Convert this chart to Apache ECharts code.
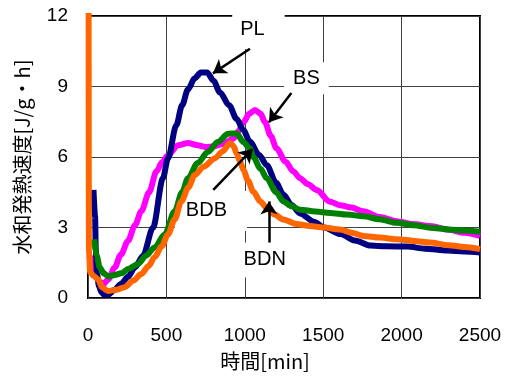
<!DOCTYPE html>
<html>
<head>
<meta charset="utf-8">
<script src="https://cdn.jsdelivr.net/npm/echarts@6/dist/echarts.min.js"></script>
<style>html,body{margin:0;padding:0;background:#fff;}#c{width:508px;height:376px;}</style>
</head>
<body>
<div id="c"></div>
<script>
var xTicks = [0, 500, 1000, 1500, 2000, 2500];
var yTicks = [0, 3, 6, 9, 12];
var seriesNames = ['BS', 'PL', 'BDB', 'BDN'];

var BS = [[20,1.8],[30,1.4],[45,1.0],[70,0.7],[100,0.6],[130,0.8],[170,1.3],[210,1.85],[255,2.43],[300,3.1],[340,3.69],[390,4.5],[436,5.38],[475,5.8],[510,6.07],[574,6.5],[638,6.6],[700,6.5],[750,6.43],[800,6.45],[860,6.55],[927,6.78],[960,7.1],[991,7.48],[1030,7.85],[1065,8.0],[1100,7.85],[1129,7.48],[1165,6.9],[1203,6.36],[1260,5.8],[1310,5.38],[1352,5.1],[1400,4.85],[1459,4.6],[1543,4.1],[1607,3.95],[1680,3.85],[1756,3.69],[1860,3.45],[1969,3.27],[2070,3.15],[2181,3.06],[2300,2.9],[2400,2.78],[2500,2.64]];

var PL = [[35,4.6],[45,3.5],[50,2.0],[58,1.0],[70,0.5],[85,0.25],[100,0.15],[130,0.15],[170,0.35],[210,0.6],[255,0.9],[300,1.3],[351,1.8],[415,3.0],[478,5.1],[510,5.94],[563,7.34],[600,8.2],[638,8.88],[680,9.35],[720,9.6],[760,9.6],[800,9.25],[842,8.74],[900,8.2],[948,7.62],[990,7.15],[1033,6.65],[1090,6.1],[1140,5.65],[1200,4.9],[1246,4.4],[1300,3.95],[1352,3.6],[1441,3.25],[1505,3.0],[1612,2.72],[1700,2.45],[1803,2.23],[1900,2.2],[2037,2.19],[2150,2.1],[2292,2.02],[2400,1.98],[2500,1.94]];

var BDB = [[40,2.5],[55,1.8],[75,1.3],[100,1.05],[130,0.92],[170,0.98],[212,1.05],[260,1.25],[319,1.45],[370,1.8],[425,2.15],[489,2.7],[553,3.69],[600,4.5],[638,5.1],[700,5.75],[765,6.22],[830,6.65],[893,6.99],[948,7.0],[991,6.64],[1033,6.36],[1054,6.0],[1100,5.5],[1140,5.1],[1200,4.5],[1246,4.11],[1300,3.9],[1352,3.76],[1450,3.68],[1543,3.62],[1650,3.55],[1756,3.48],[1860,3.35],[1969,3.2],[2080,3.1],[2181,2.99],[2300,2.92],[2400,2.87],[2500,2.82]];

var BDN = [[3,20],[6,2.0],[14,1.1],[34,0.95],[64,0.8],[90,0.45],[128,0.3],[180,0.35],[234,0.46],[290,0.75],[340,1.02],[385,1.35],[425,1.73],[470,2.2],[510,2.7],[553,3.35],[595,4.11],[640,4.7],[680,5.23],[740,5.6],[808,5.94],[860,6.25],[906,6.6],[930,6.45],[948,6.15],[970,5.8],[991,5.45],[1020,5.0],[1054,4.53],[1100,4.1],[1140,3.83],[1190,3.55],[1246,3.34],[1330,3.15],[1416,3.06],[1500,3.0],[1607,2.92],[1680,2.78],[1756,2.64],[1860,2.57],[1969,2.5],[2080,2.43],[2181,2.36],[2300,2.25],[2400,2.17],[2500,2.08]];

// annotation labels (box centres in data units)
var labelNames = ['PL', 'BS', 'BDB', 'BDN'];
var labelPos = [[1087, 11.43], [1393, 9.35], [784, 3.705], [1127, 1.62]];
var labelPad = [[16, 20, 3, 8], [10, 9, 2, 9], [11, 20, 9, 11], [10, 8, 5, 8]];
// arrows: [from, to] in data units
var arrows = [
  [[1033, 10.61], [797, 9.56]],
  [[1297, 8.72], [1154, 7.48]],
  [[799, 4.60], [1049, 6.34]],
  [[1154, 2.36], [1154, 4.11]]
];

var colors = {BS: '#FF00FF', PL: '#000080', BDB: '#008000', BDN: '#FF6600'};
var dataMap = {BS: BS, PL: PL, BDB: BDB, BDN: BDN};

var chart = echarts.init(document.getElementById('c'), null, {renderer: 'canvas'});

var series = seriesNames.map(function (n, i) {
  return {
    name: n, type: 'line', data: dataMap[n], showSymbol: false, symbol: 'none',
    smooth: 0.3, smoothMonotone: 'x', clip: true, z: 2 + i * 0.1,
    lineStyle: {color: colors[n], width: 6}, itemStyle: {color: colors[n]}
  };
});

series.unshift({
  name: 'labels', type: 'line', data: [], z: 1, silent: true,
  markPoint: {
    z: 1,
    symbol: 'circle', symbolSize: 1, itemStyle: {color: 'rgba(0,0,0,0)'},
    silent: true,
    label: {show: true, position: 'inside', color: '#000', fontSize: 20,
      fontFamily: 'Liberation Sans, Arial, sans-serif', backgroundColor: '#fff'},
    data: labelNames.map(function (n, i) {
      return {name: n, coord: labelPos[i],
        label: {formatter: n, padding: labelPad[i]}};
    })
  }
});

series.push({
  name: 'arrows', type: 'line', data: [], z: 6, silent: true,
  markLine: {
    z: 6,
    silent: true, symbol: ['none', 'arrow'], symbolSize: 13,
    lineStyle: {color: '#000', width: 2.5, type: 'solid'},
    itemStyle: {color: '#000'},
    label: {show: false},
    emphasis: {disabled: true},
    data: arrows.map(function (a) { return [{coord: a[0]}, {coord: a[1]}]; })
  }
});

chart.setOption({
  animation: false,
  backgroundColor: '#fff',
  grid: {left: 88, right: 28, top: 16, bottom: 75, show: true,
    borderColor: '#000', borderWidth: 2, backgroundColor: 'transparent'},
  xAxis: {
    type: 'value', min: xTicks[0], max: xTicks[xTicks.length - 1], interval: 500,
    name: '時間[min]', nameLocation: 'middle', nameGap: 53,
    nameTextStyle: {fontSize: 20, color: '#000', fontFamily: 'Noto Sans CJK JP', padding: [0, 38, 0, 0]},
    axisLine: {show: false}, axisTick: {show: false},
    axisLabel: {color: '#000', fontSize: 19, margin: 28, fontFamily: 'Liberation Sans, Arial, sans-serif',
      formatter: function (v) { return String(v); }},
    splitLine: {show: true, lineStyle: {color: '#404040', width: 1}}
  },
  yAxis: {
    type: 'value', min: yTicks[0], max: yTicks[yTicks.length - 1], interval: 3,
    name: '水和発熱速度[J/g・h]', nameLocation: 'middle', nameGap: 56,
    nameTextStyle: {fontSize: 20, color: '#000', fontFamily: 'Noto Sans CJK JP'},
    axisLine: {show: false}, axisTick: {show: false},
    axisLabel: {color: '#000', fontSize: 19, margin: 20, fontFamily: 'Liberation Sans, Arial, sans-serif',
      formatter: function (v) { return String(v); }},
    splitLine: {show: true, lineStyle: {color: '#404040', width: 1}}
  },
  series: series
});
</script>
</body>
</html>
